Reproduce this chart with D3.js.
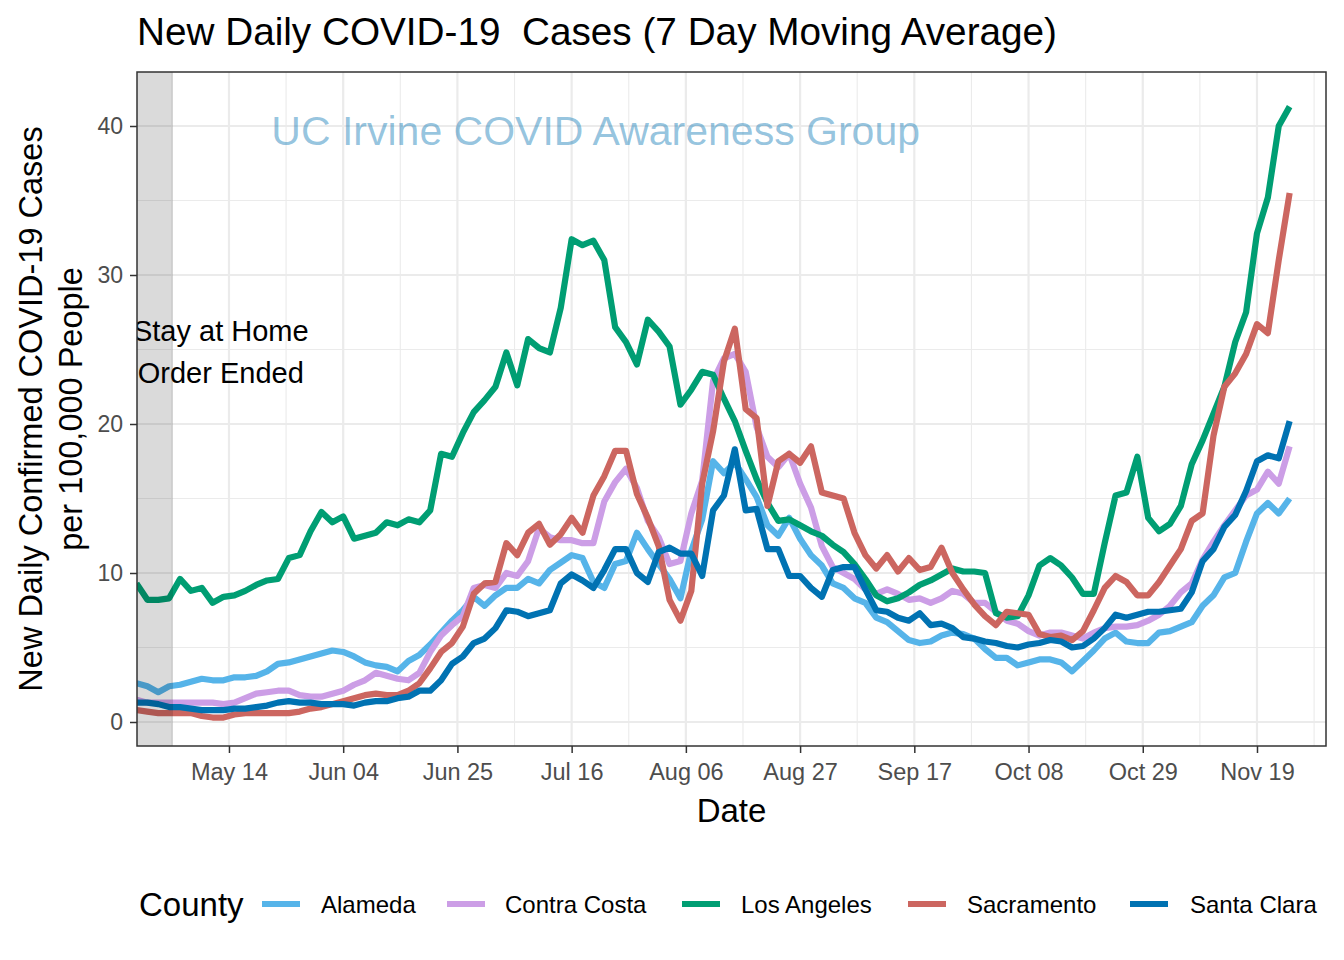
<!DOCTYPE html>
<html>
<head>
<meta charset="utf-8">
<script src="https://cdn.jsdelivr.net/npm/d3@7"></script>
<style>
  html, body { margin: 0; padding: 0; background: #fff; }
  svg { display: block; font-family: "Liberation Sans", Arial, Helvetica, sans-serif; }
</style>
</head>
<body>
<svg id="chart" width="1344" height="960"></svg>
<script>
// ---------------- DATA ----------------
const year = 2020;
const dates = ("04-27 04-29 05-01 05-03 05-05 05-07 05-09 05-11 05-13 05-15 " +
  "05-17 05-19 05-21 05-23 05-25 05-27 05-29 05-31 06-02 06-04 " +
  "06-06 06-08 06-10 06-12 06-14 06-16 06-18 06-20 06-22 06-24 " +
  "06-26 06-28 06-30 07-02 07-04 07-06 07-08 07-10 07-12 07-14 " +
  "07-16 07-18 07-20 07-22 07-24 07-26 07-28 07-30 08-01 08-03 " +
  "08-05 08-07 08-09 08-11 08-13 08-15 08-17 08-19 08-21 08-23 " +
  "08-25 08-27 08-29 08-31 09-02 09-04 09-06 09-08 09-10 09-12 " +
  "09-14 09-16 09-18 09-20 09-22 09-24 09-26 09-28 09-30 10-02 " +
  "10-04 10-06 10-08 10-10 10-12 10-14 10-16 10-18 10-20 10-22 " +
  "10-24 10-26 10-28 10-30 11-01 11-03 11-05 11-07 11-09 11-11 " +
  "11-13 11-15 11-17 11-19 11-21 11-23 11-25").split(" ");

const counties = ["Alameda", "Contra Costa", "Los Angeles", "Sacramento", "Santa Clara"];

const alameda = [
  2.6,2.4,2.0,2.4,2.5,2.7,2.9,2.8,2.8,3.0,
  3.0,3.1,3.4,3.9,4.0,4.2,4.4,4.6,4.8,4.7,
  4.4,4.0,3.8,3.7,3.4,4.1,4.5,5.2,6.0,6.8,
  7.5,8.4,7.8,8.5,9.0,9.0,9.6,9.3,10.2,10.7,
  11.2,11.0,9.4,9.0,10.6,10.8,12.7,11.6,10.6,9.6,
  8.3,11.5,13.6,17.5,16.7,17.4,16.3,15.1,13.2,12.5,
  13.7,12.3,11.2,10.5,9.3,9.0,8.3,8.0,7.0,6.7,
  6.1,5.5,5.3,5.4,5.8,6.0,5.9,5.6,4.9,4.3,
  4.3,3.8,4.0,4.2,4.2,4.0,3.4,4.1,4.8,5.6,
  6.0,5.4,5.3,5.3,6.0,6.1,6.4,6.7,7.8,8.5,
  9.7,10.0,12.1,14.0,14.7,14.0,15.0];

const contraCosta = [
  1.5,1.3,1.3,1.3,1.3,1.3,1.3,1.3,1.2,1.3,
  1.6,1.9,2.0,2.1,2.1,1.8,1.7,1.7,1.9,2.1,
  2.5,2.8,3.3,3.1,2.9,2.8,3.3,4.7,5.8,6.5,
  7.1,9.0,9.2,9.0,10.0,9.8,10.8,13.0,12.4,12.2,
  12.2,12.0,12.0,14.8,16.1,17.0,15.7,13.5,12.4,10.6,
  10.8,14.0,16.2,22.9,24.4,24.7,23.5,19.8,17.8,17.1,
  18.0,16.0,14.4,11.8,10.4,10.0,9.6,8.9,8.6,8.9,
  8.6,8.2,8.3,8.0,8.3,8.8,8.6,8.0,8.0,7.4,
  6.8,6.6,6.1,5.8,6.0,6.0,5.8,5.6,6.0,6.3,
  6.4,6.4,6.5,6.8,7.2,7.8,8.7,9.3,10.9,12.1,
  13.2,14.2,15.2,15.6,16.8,16.0,18.5];

const losAngeles = [
  9.3,8.2,8.2,8.3,9.6,8.8,9.0,8.0,8.4,8.5,
  8.8,9.2,9.5,9.6,11.0,11.2,12.8,14.1,13.4,13.8,
  12.3,12.5,12.7,13.4,13.2,13.6,13.4,14.2,18.0,17.8,
  19.4,20.8,21.6,22.5,24.8,22.6,25.7,25.1,24.8,27.8,
  32.4,32.0,32.3,31.0,26.5,25.5,24.0,27.0,26.2,25.2,
  21.3,22.3,23.5,23.3,21.7,20.2,18.2,16.3,14.7,13.5,
  13.6,13.2,12.8,12.5,11.9,11.4,10.6,9.6,8.5,8.1,
  8.3,8.7,9.2,9.5,9.9,10.3,10.1,10.1,10.0,7.3,
  7.0,7.1,8.5,10.5,11.0,10.5,9.7,8.6,8.6,12.0,
  15.2,15.4,17.8,13.7,12.8,13.3,14.5,17.3,18.9,20.7,
  22.5,25.5,27.5,32.8,35.2,40.0,41.3];

const sacramento = [
  0.8,0.7,0.6,0.6,0.6,0.6,0.4,0.3,0.3,0.5,
  0.6,0.6,0.6,0.6,0.6,0.7,0.9,1.0,1.2,1.4,
  1.6,1.8,1.9,1.8,1.8,2.1,2.6,3.6,4.7,5.3,
  6.4,8.6,9.3,9.4,12.0,11.2,12.7,13.3,11.9,12.6,
  13.7,12.7,15.2,16.5,18.2,18.2,15.3,13.7,11.8,8.2,
  6.8,8.8,16.0,19.5,24.2,26.4,21.0,20.4,14.5,17.5,
  18.0,17.4,18.5,15.4,15.2,15.0,12.7,11.2,10.3,11.2,
  10.1,11.0,10.2,10.4,11.7,10.0,8.9,7.9,7.1,6.5,
  7.4,7.3,7.2,5.9,5.7,5.8,5.5,6.1,7.5,9.0,
  9.8,9.4,8.5,8.5,9.4,10.5,11.6,13.5,14.0,19.2,
  22.5,23.4,24.7,26.7,26.1,31.0,35.5];

const santaClara = [
  1.3,1.3,1.2,1.0,1.0,0.9,0.8,0.8,0.8,0.9,
  0.9,1.0,1.1,1.3,1.4,1.3,1.3,1.2,1.2,1.2,
  1.1,1.3,1.4,1.4,1.6,1.7,2.1,2.1,2.8,3.9,
  4.4,5.3,5.6,6.3,7.5,7.4,7.1,7.3,7.5,9.3,
  9.9,9.5,9.0,10.2,11.6,11.6,10.0,9.4,11.4,11.7,
  11.3,11.3,9.8,14.2,15.2,18.3,14.2,14.3,11.6,11.6,
  9.8,9.8,9.0,8.4,10.2,10.4,10.4,8.9,7.5,7.4,
  7.0,6.8,7.3,6.5,6.6,6.3,5.7,5.6,5.4,5.3,
  5.1,5.0,5.2,5.3,5.5,5.4,5.0,5.1,5.6,6.3,
  7.2,7.0,7.2,7.4,7.4,7.5,7.6,8.7,10.8,11.6,
  13.1,13.9,15.5,17.5,17.9,17.7,20.2];

const seriesValues = [alameda, contraCosta, losAngeles, sacramento, santaClara];
const colors = ["#56B4E9", "#CC9EE6", "#009E73", "#CC6660", "#0072B2"];

const xTickDates = ["05-14","06-04","06-25","07-16","08-06","08-27","09-17","10-08","10-29","11-19"];
const xTickLabels = ["May 14","Jun 04","Jun 25","Jul 16","Aug 06","Aug 27","Sep 17","Oct 08","Oct 29","Nov 19"];
const xMinorDates = ["05-03T12","05-24T12","06-14T12","07-05T12","07-26T12","08-16T12","09-06T12","09-27T12","10-18T12","11-08T12","11-29T12"];
const yTicks = [0, 10, 20, 30, 40];
const yMinor = [5, 15, 25, 35];

const titleText = "New Daily COVID-19  Cases (7 Day Moving Average)";
const yTitle1 = "New Daily Confirmed COVID-19 Cases";
const yTitle2 = "per 100,000 People";
const xTitle = "Date";
const watermark = "UC Irvine COVID Awareness Group";
const annotLines = ["Stay at Home", "Order Ended"];
const shadeEnd = "05-03T17";

// ---------------- HELPERS ----------------
const parse = s => {
  const [md, h] = s.split("T");
  const [m, d] = md.split("-").map(Number);
  return new Date(year, m - 1, d, h ? +h : 0);
};

// ---------------- LAYOUT ----------------
const P = { left: 137, right: 1326, top: 72, bottom: 746 };
const svg = d3.select("#chart");

const x = d3.scaleTime()
  .domain([parse("04-27"), parse("12-02")])
  .range([136.5, 1327.7]);
const y = d3.scaleLinear()
  .domain([0, 40])
  .range([722, 126]);

svg.append("defs").append("clipPath").attr("id", "panelClip")
  .append("rect").attr("x", P.left).attr("y", P.top)
  .attr("width", P.right - P.left).attr("height", P.bottom - P.top);

svg.append("rect").attr("x", P.left).attr("y", P.top)
  .attr("width", P.right - P.left).attr("height", P.bottom - P.top)
  .attr("fill", "#fff");

const grid = svg.append("g").attr("clip-path", "url(#panelClip)");
grid.selectAll(".vminor").data(xMinorDates).join("line")
  .attr("x1", d => x(parse(d))).attr("x2", d => x(parse(d)))
  .attr("y1", P.top).attr("y2", P.bottom)
  .attr("stroke", "#EBEBEB").attr("stroke-width", 1.1);
grid.selectAll(".hminor").data(yMinor).join("line")
  .attr("y1", d => y(d)).attr("y2", d => y(d))
  .attr("x1", P.left).attr("x2", P.right)
  .attr("stroke", "#EBEBEB").attr("stroke-width", 1.1);
grid.selectAll(".vmajor").data(xTickDates).join("line")
  .attr("x1", d => x(parse(d))).attr("x2", d => x(parse(d)))
  .attr("y1", P.top).attr("y2", P.bottom)
  .attr("stroke", "#EBEBEB").attr("stroke-width", 2.2);
grid.selectAll(".hmajor").data(yTicks).join("line")
  .attr("y1", d => y(d)).attr("y2", d => y(d))
  .attr("x1", P.left).attr("x2", P.right)
  .attr("stroke", "#EBEBEB").attr("stroke-width", 2.2);

const plot = svg.append("g").attr("clip-path", "url(#panelClip)");
const line = d3.line()
  .x((d, i) => x(parse(dates[i])))
  .y(d => y(d))
  .curve(d3.curveLinear);

seriesValues.forEach((vals, si) => {
  plot.append("path")
    .datum(vals)
    .attr("d", line)
    .attr("fill", "none")
    .attr("stroke", colors[si])
    .attr("stroke-width", 6.2)
    .attr("stroke-linejoin", "round")
    .attr("stroke-linecap", "butt");
});

plot.append("rect")
  .attr("x", P.left - 5)
  .attr("y", P.top)
  .attr("width", x(parse(shadeEnd)) - (P.left - 5))
  .attr("height", P.bottom - P.top)
  .attr("fill", "#000")
  .attr("fill-opacity", 0.145);

plot.selectAll(".annot").data(annotLines).join("text")
  .attr("x", x(parse("05-12T12")))
  .attr("y", (d, i) => y(26.3 - i * 2.85))
  .attr("dy", "0.36em")
  .attr("text-anchor", "middle")
  .attr("font-size", 29)
  .attr("fill", "#000")
  .text(d => d);

plot.append("text")
  .attr("x", x(parse("07-20T10")))
  .attr("y", y(39.7))
  .attr("dy", "0.36em")
  .attr("text-anchor", "middle")
  .attr("font-size", 41)
  .attr("fill", "#0072B2")
  .attr("fill-opacity", 0.42)
  .text(watermark);

svg.append("rect").attr("x", P.left).attr("y", P.top)
  .attr("width", P.right - P.left).attr("height", P.bottom - P.top)
  .attr("fill", "none").attr("stroke", "#333333").attr("stroke-width", 1.5);

const xAxis = d3.axisBottom(x)
  .tickValues(xTickDates.map(parse))
  .tickFormat((d, i) => xTickLabels[i])
  .tickSize(7).tickSizeOuter(0).tickPadding(10);
const gx = svg.append("g").attr("transform", `translate(0,${P.bottom})`).call(xAxis);
gx.select(".domain").remove();
gx.selectAll(".tick line").attr("stroke", "#333333").attr("stroke-width", 1.5);
gx.selectAll(".tick text").attr("fill", "#4D4D4D").attr("font-size", 23.5)
  .attr("font-family", "Liberation Sans, Arial, sans-serif");

const yAxis = d3.axisLeft(y)
  .tickValues(yTicks)
  .tickFormat(d3.format("d"))
  .tickSize(7).tickSizeOuter(0).tickPadding(7);
const gy = svg.append("g").attr("transform", `translate(${P.left},0)`).call(yAxis);
gy.select(".domain").remove();
gy.selectAll(".tick line").attr("stroke", "#333333").attr("stroke-width", 1.5);
gy.selectAll(".tick text").attr("fill", "#4D4D4D").attr("font-size", 23)
  .attr("font-family", "Liberation Sans, Arial, sans-serif");

svg.append("text")
  .attr("x", (P.left + P.right) / 2).attr("y", 822)
  .attr("text-anchor", "middle").attr("font-size", 33).attr("fill", "#000")
  .text(xTitle);

const yMid = (P.top + P.bottom) / 2;
svg.append("text")
  .attr("transform", `translate(42,${yMid}) rotate(-90)`)
  .attr("text-anchor", "middle").attr("font-size", 32.5).attr("fill", "#000")
  .text(yTitle1);
svg.append("text")
  .attr("transform", `translate(82,${yMid}) rotate(-90)`)
  .attr("text-anchor", "middle").attr("font-size", 32.5).attr("fill", "#000")
  .text(yTitle2);

svg.append("text")
  .attr("x", 137).attr("y", 45)
  .attr("font-size", 38.5).attr("fill", "#000")
  .style("white-space", "pre")
  .attr("textLength", 920).attr("lengthAdjust", "spacingAndGlyphs")
  .text(titleText);

const legY = 904;
svg.append("text").attr("x", 139).attr("y", legY + 12)
  .attr("font-size", 33).attr("fill", "#000").text("County");
const keyX = [262, 447, 682, 908, 1130];
const labelX = [321, 505, 741, 967, 1190];
const leg = svg.append("g");
counties.forEach((c, i) => {
  leg.append("line")
    .attr("x1", keyX[i]).attr("x2", keyX[i] + 38)
    .attr("y1", legY).attr("y2", legY)
    .attr("stroke", colors[i]).attr("stroke-width", 6.2);
  leg.append("text")
    .attr("x", labelX[i]).attr("y", legY + 9)
    .attr("font-size", 24).attr("fill", "#000")
    .text(c);
});
</script>
</body>
</html>
